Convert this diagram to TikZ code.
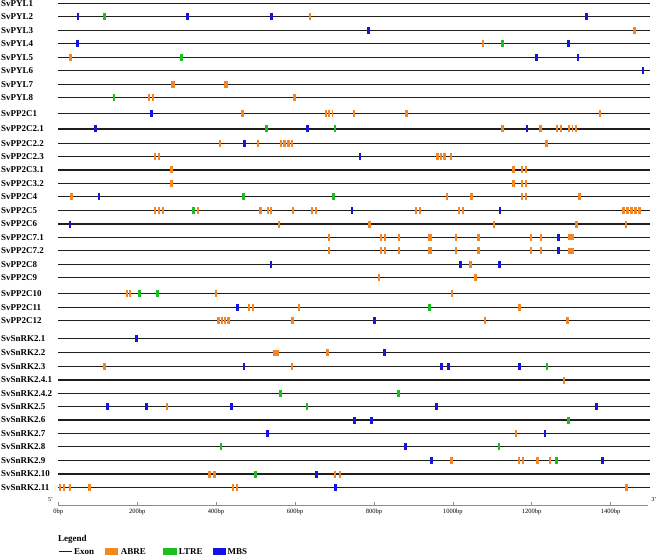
\documentclass[tikz,border=0pt]{standalone}
\usepackage{fontspec}
\setmainfont{Liberation Serif}
\definecolor{abre}{RGB}{245,135,35}
\definecolor{ltre}{RGB}{30,190,30}
\definecolor{mbs}{RGB}{20,20,230}
\definecolor{exonc}{RGB}{30,30,30}
\definecolor{axisc}{RGB}{140,140,140}
\tikzset{
  lab/.style={anchor=west,inner sep=0pt,font=\bfseries\fontsize{9}{10}\selectfont},
  exon/.style={draw=exonc,line width=1.4pt},
  axisline/.style={draw=axisc,line width=1pt},
  ticklab/.style={anchor=north,inner sep=0pt,font=\fontsize{6.5}{7}\selectfont},
  endlab/.style={inner sep=0pt,font=\fontsize{6}{7}\selectfont},
  leglab/.style={anchor=west,inner sep=0pt,font=\bfseries\fontsize{9}{10}\selectfont},
}
\newcommand\mkbar[4]{\fill[#1] ({#2-#3/2},{-#4-3.5}) rectangle ({#2+#3/2},{-#4+3.5});}
\newcommand\mA[2]{\mkbar{abre}{#1}{2.5}{#2}}
\newcommand\mW[2]{\mkbar{abre}{#1}{3.6}{#2}}
\newcommand\mT[2]{\mkbar{abre}{#1}{1.7}{#2}}
\newcommand\mD[2]{\mkbar{abre}{#1-1.8}{2}{#2}\mkbar{abre}{#1+1.8}{2}{#2}}
\newcommand\mS[2]{\fill[abre] ({#1-3},{-#2-3}) rectangle ({#1+3},{-#2+3});}
\newcommand\mL[2]{\mkbar{ltre}{#1}{2.8}{#2}}
\newcommand\mM[2]{\mkbar{mbs}{#1}{2.8}{#2}}
\newcommand\generow[4]{%
  \node[lab] (g#1) at (1,-#2) {#3};
  \draw[exon] (58,-#2) coordinate (s#1) -- (650,-#2) coordinate (e#1);
  \foreach \mtyp/\mx in {#4} {\csname m\mtyp\endcsname{\mx}{#2}}%
}
\newcommand\emptyrow[3]{%
  \node[lab] (g#1) at (1,-#2) {#3};
  \draw[exon] (58,-#2) coordinate (s#1) -- (650,-#2) coordinate (e#1);
}
\begin{document}
\begin{tikzpicture}[x=1pt,y=1pt]
\useasboundingbox (0,0) rectangle (658,-556);
\emptyrow{0}{3.3}{SvPYL1}
\generow{1}{16.7}{SvPYL2}{M/78,L/104.3,M/187.3,M/271.7,A/310,M/586.3}
\generow{2}{30.7}{SvPYL3}{M/368.7,A/634.3}
\generow{3}{43.3}{SvPYL4}{M/77.7,T/483.3,L/502.7,M/568.7}
\generow{4}{57.3}{SvPYL5}{A/70.7,L/181.7,M/536.3,M/578}
\generow{5}{70.7}{SvPYL6}{M/643}
\generow{6}{84.3}{SvPYL7}{W/173,W/225.7}
\generow{7}{97.7}{SvPYL8}{L/114,D/151,A/294.3}
\generow{8}{113.7}{SvPP2C1}{M/151.7,A/242.3,T/326,T/329.3,T/332.6,A/354,A/406.3,A/600}
\generow{9}{129}{SvPP2C2.1}{M/95.7,L/266.3,M/307.7,L/335,A/502.7,M/527,A/540.7,T/557,T/561,T/569,T/572.5,T/576}
\generow{10}{143.3}{SvPP2C2.2}{A/220,M/244.3,A/258,A/281,A/284.7,A/288.4,A/292.1,A/546.3}
\generow{11}{156.7}{SvPP2C2.3}{D/156.7,M/360,A/437.3,A/441,A/444.7,T/450.7}
\generow{12}{170}{SvPP2C3.1}{A/171.7,A/513.3,D/524}
\generow{13}{183.3}{SvPP2C3.2}{A/171.7,A/513.3,D/524}
\generow{14}{196.7}{SvPP2C4}{A/71.7,M/99,L/243.3,L/333.3,A/447,A/471.7,D/524,A/579.3}
\generow{15}{210.3}{SvPP2C5}{T/155,D/161,L/193.3,A/198,A/260.7,D/269.3,T/293,D/313.7,M/352,D/417.7,D/460.7,M/500,A/623.5,A/627.5,A/631.5,A/635.5,A/639.5}
\generow{16}{224}{SvPP2C6}{M/70,T/278.7,A/369.3,T/494.3,A/576.7,A/626}
\generow{17}{237.3}{SvPP2C7.1}{A/329,D/383,A/399,W/430,T/455.7,A/478.7,T/531,T/540.7,M/558.7,S/570.7}
\generow{18}{250.7}{SvPP2C7.2}{A/329,D/383,A/399,W/430,T/455.7,A/478.7,T/531,T/540.7,M/558.7,S/570.7}
\generow{19}{264.2}{SvPP2C8}{M/271,M/460.7,A/470.7,M/499.3}
\generow{20}{277.3}{SvPP2C9}{T/379.3,A/475.3}
\generow{21}{293.3}{SvPP2C10}{D/128.3,L/139.3,L/157.3,T/216,T/451.7}
\generow{22}{307.3}{SvPP2C11}{M/237.3,D/250.7,T/298.7,L/429.3,A/519.7}
\generow{23}{320.7}{SvPP2C12}{A/218.5,A/221.8,A/225.1,A/228.4,A/292.7,M/374.3,T/485.3,A/567.3}
\generow{24}{338.3}{SvSnRK2.1}{M/136.7}
\generow{25}{352.7}{SvSnRK2.2}{S/275.7,A/327.7,M/384.7}
\generow{26}{366.7}{SvSnRK2.3}{A/104.3,M/244,T/292.3,M/441.3,M/448.7,M/519.3,L/547}
\generow{27}{380}{SvSnRK2.4.1}{A/564}
\generow{28}{393.3}{SvSnRK2.4.2}{L/280.3,L/398.5}
\generow{29}{406.7}{SvSnRK2.5}{M/107.7,M/146.3,T/166.7,M/231.7,L/307,M/436.7,M/596.3}
\generow{30}{420}{SvSnRK2.6}{M/354.7,M/371.3,L/568.3}
\generow{31}{433.3}{SvSnRK2.7}{M/267.3,T/516,M/545}
\generow{32}{446.7}{SvSnRK2.8}{L/221,M/405.7,L/499}
\generow{33}{460.3}{SvSnRK2.9}{M/431.3,A/451.3,D/520.7,A/537.7,T/550,L/556.3,M/602.3}
\generow{34}{474}{SvSnRK2.10}{A/209.5,A/214.5,L/255.3,M/316.3,A/335,A/340}
\generow{35}{487.7}{SvSnRK2.11}{A/60,A/64,A/70,A/89.3,D/234.7,M/335.7,A/626.7}
% axis
\coordinate (ax0) at (58,-505);
\coordinate (ax1) at (648,-505);
\draw[axisline] (ax0) -- (ax1);
\foreach \k/\t in {0/0bp,1/200bp,2/400bp,3/600bp,4/800bp,5/1000bp,6/1200bp,7/1400bp}{
  \draw[axisc,line width=0.6pt] ({58.3+78.9*\k},-505) -- ({58.3+78.9*\k},-502);
  \node[ticklab] (t\k) at ({58.3+78.9*\k},-509) {\t};
}
\node[endlab] (five) at (50.5,-500) {5'};
\node[endlab] (three) at (654,-499.5) {3'};
% legend
\node[leglab] (legend) at (58,-539) {Legend};
\coordinate (lx0) at (59,-551.7);
\coordinate (lx1) at (71.5,-551.7);
\draw[exon] (lx0) -- (lx1);
\node[leglab] (lexon) at (74,-551.7) {Exon};
\fill[abre] (105,-548.4) rectangle (118.3,-555);
\node[leglab] (labre) at (120.7,-551.7) {ABRE};
\fill[ltre] (162.7,-548.4) rectangle (176.7,-555);
\node[leglab] (lltre) at (178.7,-551.7) {LTRE};
\fill[mbs] (212.7,-548.4) rectangle (226,-555);
\node[leglab] (lmbs) at (227.5,-551.7) {MBS};
\end{tikzpicture}
\end{document}
